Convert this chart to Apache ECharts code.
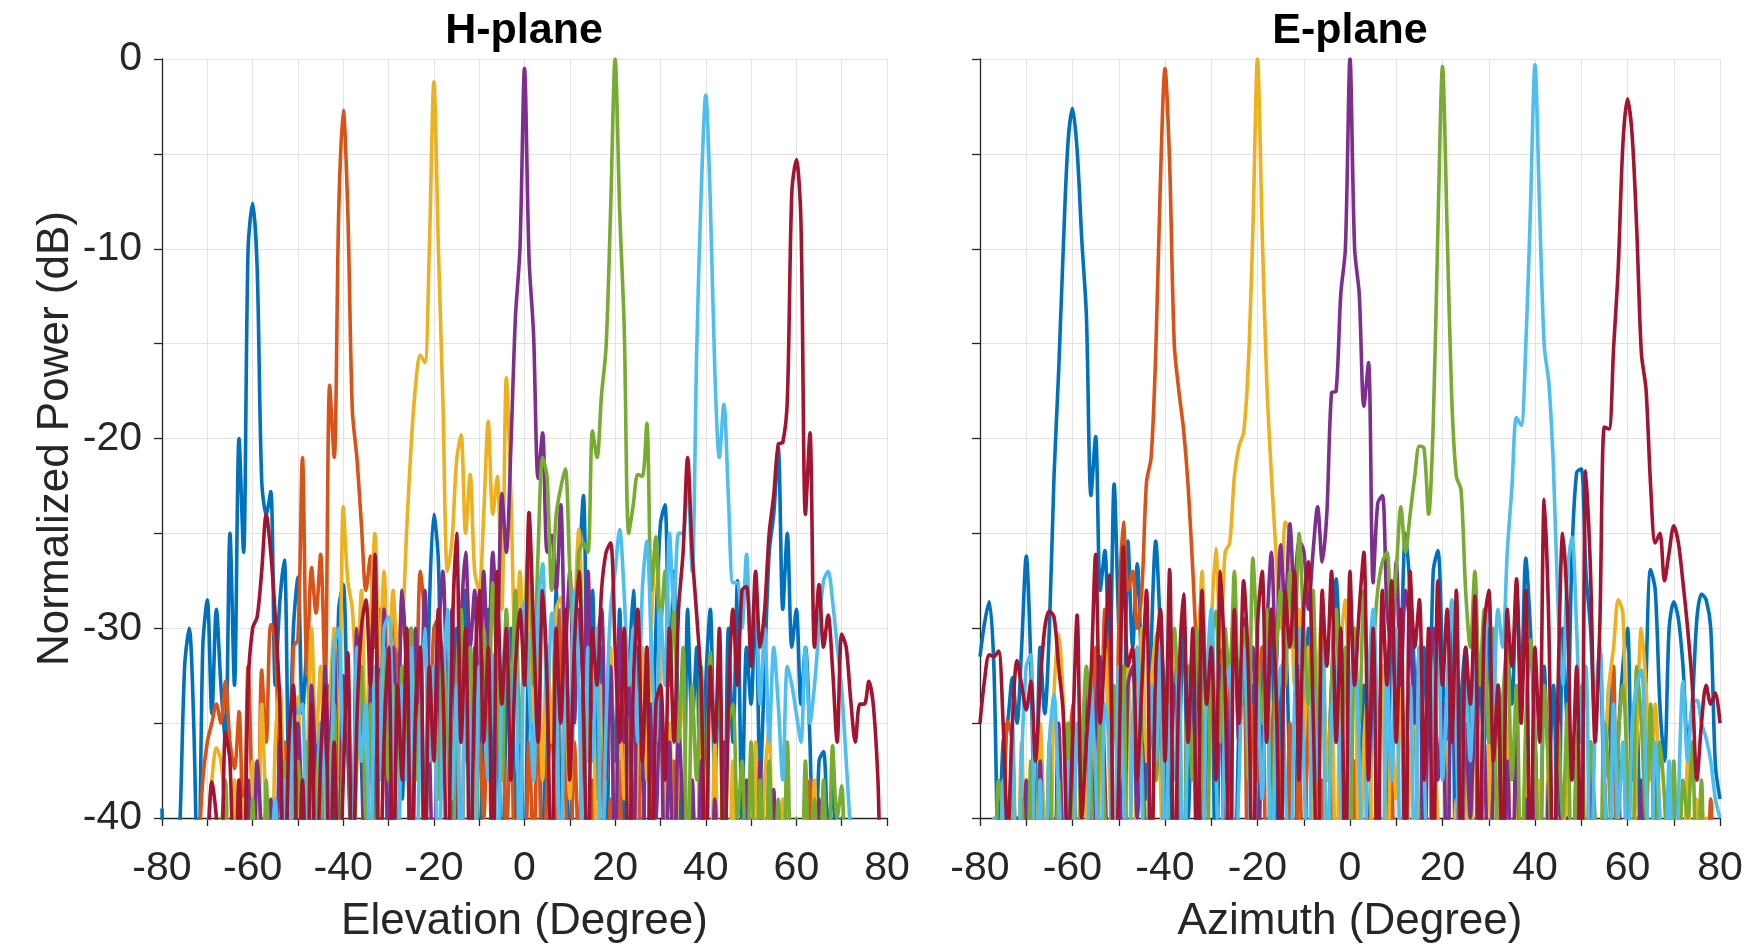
<!DOCTYPE html>
<html><head><meta charset="utf-8">
<script src="https://cdn.jsdelivr.net/npm/echarts@6/dist/echarts.min.js"></script>
<style>html,body{margin:0;padding:0;background:#fff}#c{width:1749px;height:946px}</style>
</head><body><div id="c"></div>
<script>
const angles = [-80,-79,-78,-77,-76,-75,-74,-73,-72,-71,-70,-69,-68,-67,-66,-65,-64,-63,-62,-61,
-60,-59,-58,-57,-56,-55,-54,-53,-52,-51,-50,-49,-48,-47,-46,-45,-44,-43,-42,-41,
-40,-39,-38,-37,-36,-35,-34,-33,-32,-31,-30,-29,-28,-27,-26,-25,-24,-23,-22,-21,
-20,-19,-18,-17,-16,-15,-14,-13,-12,-11,-10,-9,-8,-7,-6,-5,-4,-3,-2,-1,
0,1,2,3,4,5,6,7,8,9,10,11,12,13,14,15,16,17,18,19,20,21,22,23,24,25,26,27,28,29,
30,31,32,33,34,35,36,37,38,39,40,41,42,43,44,45,46,47,48,49,50,51,52,53,54,55,56,57,58,59,
60,61,62,63,64,65,66,67,68,69,70,71,72,73,74,75,76,77,78,79,80];

const xTickLabels = ['-80','-60','-40','-20','0','20','40','60','80'];
const yTickLabels = ['-40','-30','-20','-10','0'];
const seriesNames = ['Beam -60','Beam -40','Beam -20','Beam 0','Beam 20','Beam 40','Beam 60'];
const colors = ['#0072BD','#D95319','#EDB120','#7E2F8E','#77AC30','#4DBEEE','#A2142F'];

// ---------- H-plane (Elevation) ----------
const hBlue = [
-39.5,-45,-45,-45,-40,-32,-30,-35,-45,-31,
-28.5,-34.5,-29,-33,-36,-25,-33,-20,-26,-10,
-7.6,-11,-22.2,-24,-22.8,-33,-28.6,-26.4,-37.7,-30,
-27.3,-34.5,-31,-41,-36,-45,-38,-33,-41,-29,
-27.7,-36,-42,-31,-37,-45,-33,-40,-29,-36,
-32,-45,-34,-39,-30,-45,-35,-31,-42,-29,
-24,-26.5,-38,-33,-45,-30,-36,-28,-40,-31,
-45,-33,-29,-38,-32,-45,-34,-30,-40,-35,
-45,-30,-38,-33,-45,-31,-36,-28,-40,-33,
-45,-30,-27,-23,-34,-28,-39,-31,-45,-32,
-37,-29,-42,-33,-28,-36,-45,-31,-38,-30,
-24.5,-23.5,-33,-27,-36,-45,-29,-35,-31,-45,
-33,-29,-38,-32,-45,-30,-36,-27.5,-40,-31,
-34,-28,-38,-32,-26,-24,-20.5,-29,-25,-31,
-29,-34,-31,-36,-45,-37,-36.5,-41,-38,-45,
-40,-45,-45,-45,-45,-45,-45,-45,-45,-45,
-45];
const hOrange = [
-45,-45,-45,-45,-45,-45,-45,-45,-42,-38,
-36,-35,-34,-35,-32.8,-36,-37.4,-34.4,-42,-32,
-40,-45,-32.2,-36,-29.8,-30.5,-38,-36,-45,-31,
-30.6,-21,-32.5,-26.8,-29.2,-26.1,-33,-17.2,-21,-8,
-2.7,-8,-18.5,-21,-24.5,-28,-26.2,-31,-29,-33,
-32.5,-29,-33,-28.3,-31,-30,-34,-27,-29.5,-36,
-30,-29.5,-36,-33,-38,-32,-45,-33,-38,-45,
-35,-40,-33,-45,-36,-34,-41,-35,-45,-37,
-45,-36,-42,-34,-45,-38,-35,-45,-29,-38,
-45,-36,-42,-33,-45,-38,-45,-35,-45,-39,
-45,-37,-45,-45,-40,-36,-45,-45,-38,-45,
-45,-41,-45,-37,-45,-45,-45,-45,-45,-45,
-45,-45,-45,-45,-39,-45,-45,-45,-45,-45,
-45,-45,-38,-45,-45,-45,-45,-45,-45,-45,
-45,-45,-45,-38,-45,-45,-45,-45,-45,-45,
-45,-45,-45,-45,-45,-45,-45,-45,-45,-45,
-45];
const hYellow = [
-45,-45,-45,-45,-45,-45,-45,-45,-45,-45,
-41,-38,-36.3,-37,-40,-45,-38,-45,-39,-45,
-37,-45,-34,-40,-45,-36,-33,-40,-45,-35,
-33.6,-45,-38,-30,-36,-32,-40,-34,-30,-38,
-23.6,-27.5,-29,-33,-28,-36,-30,-25,-32,-27,
-33,-28,-31,-30,-24.8,-20.3,-17.1,-15.6,-16,-10,
-1.2,-10,-18.1,-27,-25.4,-21.2,-19.8,-25,-21.9,-27,
-28,-24,-19.1,-24,-22,-29,-16.8,-23,-31,-27,
-33,-28,-35,-30,-38,-31,-36,-29,-28.4,-33,
-39,-30,-24.8,-32,-37,-31,-45,-33,-38,-31,
-45,-34,-39,-32,-45,-36,-31,-38,-30,-25.2,
-33,-40,-35,-45,-37,-33,-45,-38,-45,-35,
-40,-45,-36,-45,-38,-45,-37,-45,-45,-39,
-45,-36,-45,-38,-35.3,-45,-45,-39,-45,-45,
-45,-45,-45,-45,-38,-45,-45,-45,-45,-45,
-45,-45,-45,-45,-45,-45,-45,-45,-45,-45,
-45];
const hPurple = [
-45,-45,-45,-45,-45,-45,-45,-45,-45,-45,
-45,-45,-45,-45,-45,-42,-45,-40,-45,-38,
-45,-37,-41,-45,-39,-45,-36,-45,-38,-45,
-35,-40,-45,-33,-38,-45,-32,-37,-31,-45,
-32.5,-36,-45,-30,-35,-45,-33,-28,-38,-29,
-45,-31,-36,-28,-33,-45,-30,-35,-28,-36,
-45,-31,-27,-33,-29,-40,-30,-26,-31,-28,
-36,-27,-32,-26,-30,-22.9,-26,-20.4,-13.6,-10,
-0.5,-10.5,-14.5,-22.1,-19.7,-26,-25.1,-28,-23.5,-31,
-27,-35,-29,-33,-27,-36,-31.3,-29,-38,-32,
-45,-30,-36,-33,-45,-31,-37,-45,-34,-40,
-33,-45,-36,-45,-35,-40,-45,-38,-45,-37,
-45,-45,-39,-45,-36,-45,-45,-40,-45,-38,
-45,-45,-37,-45,-45,-38.5,-45,-45,-45,-45,
-45,-45,-45,-45,-45,-39,-45,-45,-45,-45,
-45,-45,-45,-45,-45,-45,-45,-45,-45,-45,
-45];
const hGreen = [
-45,-45,-45,-45,-45,-45,-45,-45,-45,-45,
-45,-45,-45,-41,-38,-45,-45,-40,-45,-45,
-39,-45,-45,-38,-45,-40,-45,-37,-45,-38,
-37,-45,-36,-45,-39,-35,-45,-38,-34,-45,
-36,-33,-45,-37,-32,-40,-34,-45,-35,-31,
-38,-33,-45,-32,-36,-30,-38,-34,-45,-32,
-32.5,-39,-31,-35,-45,-33,-29,-37,-31,-45,
-34,-30,-36,-27.6,-33,-38,-29,-34,-28,-36,
-30,-25,-33,-26,-21,-22.1,-28,-24,-22.6,-21.6,
-27,-31,-26,-25.5,-26,-19.6,-21,-17.7,-15.2,-8,
0,-8,-14.1,-25,-23.5,-21.9,-22,-19.2,-28,-25.2,
-30,-27,-33,-29,-36,-31,-45,-33,-38,-32,
-45,-31.3,-36,-33,-45,-35,-34,-40,-37,-45,
-36,-45,-38,-45,-37,-45,-39,-45,-36,-45,
-40,-45,-37,-45,-39,-45,-38,-45,-36.2,-40,
-38.3,-45,-40,-45,-45,-45,-45,-45,-45,-45,
-45];
const hLight = [
-45,-45,-45,-45,-45,-45,-45,-45,-45,-45,
-45,-45,-45,-45,-45,-45,-45,-45,-45,-45,
-45,-45,-45,-45,-42,-39,-45,-38,-45,-33.6,
-34.5,-34,-45,-37,-45,-35,-39,-45,-31,-30,
-36,-33,-45,-31,-37,-34,-45,-32,-38,-30,
-29.4,-36,-45,-33,-38,-31,-45,-35,-30,-37,
-32,-45,-34,-29,-39,-33,-45,-31,-36,-45,
-32,-34,-38,-31.4,-45,-33,-30,-37,-31,-45,
-28.6,-33,-38,-29,-26.6,-35,-29.2,-33,-45,-30,
-36,-28,-33,-45,-31,-37,-30,-45,-35,-29,
-27,-24.8,-28.2,-33,-30,-36,-28,-25.4,-31,-36,
-29,-33,-25,-29,-25,-25,-22,-27,-15.4,-7,
-1.9,-7.5,-16.4,-21,-18.2,-23.1,-27.6,-27.6,-30,-26.1,
-31,-28,-34,-30,-36,-31,-34,-38,-32,-33,
-34.5,-36,-31,-35,-33,-30,-27.5,-27,-28.6,-30.9,
-33.2,-37,-41,-45,-45,-45,-45,-45,-45,-45,
-45];
const hRed = [
-45,-45,-45,-45,-45,-45,-45,-45,-45,-45,
-42,-38.1,-40,-45,-35.5,-37,-45,-38,-45,-33,
-30,-29.4,-27,-24,-26,-29.4,-34,-45,-36,-33,
-45,-38,-45,-34,-45,-37,-33,-45,-36,-45,
-38,-31.3,-45,-35,-30,-28.5,-33,-26.1,-45,-36,
-31,-45,-33,-38,-30,-45,-34,-31,-45,-32,
-37,-29,-33,-45,-31,-25,-36,-30,-45,-33,
-28,-36,-31,-45,-27,-34,-30,-38,-32,-29,
-33,-23.9,-30,-36,-28,-33,-45,-30,-35,-29,
-38,-31,-27,-34,-45,-30,-33,-28,-26,-25.5,
-31,-36,-30,-45,-33,-29,-37,-31,-45,-34,
-33,-38,-30,-36,-29,-26,-21,-26,-29.3,-33,
-45,-32,-36,-30,-45,-34,-29,-33,-28,-27.8,
-32,-27,-31,-29,-25,-23,-20.3,-20.2,-18,-7,
-5.3,-8.5,-24,-19.7,-31,-27.7,-31,-29.3,-32.2,-36,
-30.3,-31,-33.8,-36,-34,-34,-32.8,-34.1,-38,-45,
-45];

// ---------- E-plane (Azimuth) ----------
const eBlue = [
-31.5,-29.7,-28.6,-32,-42,-36,-34.9,-32.6,-35,-31,
-26.2,-32,-42,-31,-34.5,-30,-22,-16.5,-10,-4.5,
-2.6,-4.8,-9.5,-13.5,-23,-19.9,-28,-25.9,-33,-22.4,
-30,-36,-25.4,-31,-26.6,-33,-39,-31,-25.4,-30,
-34,-45,-32,-36,-29,-40,-33,-45,-31,-37,
-30,-45,-34,-38,-32,-45,-35,-30,-39,-33,
-45,-31,-36,-29,-42,-34,-31,-38,-45,-32,
-36,-30,-45,-35,-31,-38,-33,-27.4,-34,-45,
-36,-31,-40,-33,-45,-30,-36,-32,-45,-29,
-34,-31,-25,-28,-33,-45,-31,-36,-27,-25.9,
-32,-38,-30,-45,-34,-31,-37,-45,-32,-36,
-30,-39,-33,-45,-31,-34,-28,-33,-26.3,-30,
-36,-45,-32,-37,-33,-45,-30,-35,-26,-21.8,
-21.6,-27,-30,-35,-31,-38,-33,-45,-36,-32,
-30,-38,-35,-45,-33,-26.9,-28,-34,-37,-30,
-28.6,-29.5,-32,-36,-34,-29.5,-28.2,-28.5,-30,-37.2,
-39];
const eOrange = [
-45,-45,-45,-45,-45,-42,-34.9,-36,-45,-38,
-45,-40,-45,-37,-45,-39,-45,-36,-45,-38,
-34,-45,-36,-33,-40,-31,-37,-29,-34,-45,
-30,-24.4,-28,-27,-30,-28,-22.3,-21,-15.5,-6.5,
-0.5,-5.5,-15,-17.5,-19.5,-22.5,-26.9,-31,-28,-34,
-30,-37,-31,-45,-33,-29,-36,-32,-45,-34,
-38,-31,-45,-36,-33,-40,-45,-35,-45,-37,
-45,-34,-42,-45,-38,-45,-36,-45,-45,-39,
-45,-37,-45,-45,-40,-45,-36,-45,-45,-38,
-45,-45,-39,-45,-45,-45,-45,-45,-45,-45,
-45,-45,-45,-45,-45,-45,-45,-45,-45,-45,
-45,-45,-45,-45,-45,-45,-45,-45,-45,-45,
-45,-45,-45,-45,-45,-45,-45,-45,-45,-45,
-45,-45,-45,-45,-45,-38,-45,-32,-45,-45,
-45,-45,-40,-45,-45,-45,-37,-45,-45,-45,
-45,-45,-45,-45,-45,-45,-45,-45,-39,-45,
-45];
const eYellow = [
-45,-45,-45,-45,-45,-45,-40,-37,-45,-36,
-45,-39,-45,-35,-41,-45,-33.5,-30.3,-34,-45,
-37,-45,-35,-40,-33,-45,-36,-31,-38,-45,
-34,-39,-32,-45,-36,-30,-37,-33,-30.3,-38,
-45,-35,-31,-36,-45,-32,-38,-33.8,-27,-38,
-30,-25.8,-31,-26,-25.5,-22,-20.4,-19.7,-16.2,-9,
0,-9,-17,-21.9,-26,-30,-24.4,-25,-33,-29,
-36,-31,-45,-33,-29,-38,-34,-45,-31,-28.5,
-35,-30,-45,-36,-33,-45,-38,-32,-45,-35,
-39,-33,-45,-37,-34,-45,-38,-45,-35,-40,
-45,-36,-45,-39,-45,-37,-45,-34,-40,-45,
-36,-45,-38,-45,-35,-45,-39,-45,-37,-45,
-45,-38,-45,-36,-45,-40,-45,-37,-45,-45,
-39,-45,-36,-45,-45,-38,-33,-31,-28.5,-29.2,
-38,-45,-36,-30,-33,-38,-34,-40,-45,-38,
-45,-40,-45,-37,-45,-39,-45,-40,-45,-45,
-45];
const ePurple = [
-45,-45,-45,-45,-45,-45,-45,-45,-40,-45,
-38,-45,-45,-37,-45,-39,-45,-35,-42,-45,
-36,-45,-38,-33,-45,-35,-31.5,-38,-45,-34,
-36,-45,-33,-32,-40,-36,-45,-34,-38,-31,
-45,-35,-33,-40,-45,-34,-37,-31,-45,-36,
-33,-38,-32,-45,-35,-30,-36,-29.5,-33,-31,
-45,-34,-30,-26,-32,-25.6,-29,-24.5,-28,-25.4,
-25.9,-29,-26,-23.6,-26.5,-23.9,-17.6,-17.5,-12.4,-10,
0,-10,-12.4,-18.3,-16,-27.6,-23.4,-23,-29,-31,
-26.5,-33,-28,-30,-35,-31,-45,-33,-30,-38,
-34,-45,-32,-37,-45,-35,-40,-34,-45,-36,
-45,-38,-33,-45,-37,-45,-35,-45,-39,-45,
-36,-45,-45,-38,-45,-34,-45,-40,-45,-37,
-45,-45,-36,-45,-45,-39,-45,-45,-37,-45,
-45,-45,-45,-38,-45,-45,-45,-45,-45,-39,
-45,-45,-45,-45,-45,-45,-45,-45,-45,-45,
-45];
const eGreen = [
-45,-45,-45,-45,-38,-40,-45,-36,-45,-39,
-45,-37,-45,-40,-45,-36,-45,-38,-45,-35,
-40,-45,-37,-32,-38,-45,-34,-40,-45,-33,
-38,-32,-45,-36,-31,-37,-45,-33,-38,-31,
-45,-34,-30,-36,-45,-32,-38,-30,-35,-45,
-31,-29.1,-36,-30,-33,-27,-34,-30,-38,-26.3,
-31,-35,-29,-45,-32,-28,-33,-27,-31,-25,
-30,-34,-28,-36,-31,-45,-33,-29,-37,-31,
-45,-30,-35,-28,-33,-31,-28,-26.5,-26,-30,
-27,-23.6,-26,-24,-22,-20.4,-20.5,-24,-19.2,-9,
-0.4,-9,-17.9,-22,-22.7,-28,-31,-27,-33,-29,
-36,-30,-45,-34,-31,-38,-33,-45,-35,-30.6,
-36,-45,-33,-38,-45,-35,-40,-34,-45,-37,
-33,-45,-36,-40,-45,-35,-38,-45,-36,-33,
-38,-45,-32,-35,-40,-34,-45,-36,-39,-45,
-37,-45,-38,-40,-36,-45,-38,-45,-45,-45,
-45];
const eLight = [
-45,-45,-45,-40,-45,-38,-45,-35,-45,-37,
-32,-31.4,-45,-38,-45,-36,-33.5,-39,-45,-37,
-45,-35,-40,-45,-33,-38,-45,-34,-36,-45,
-32,-38,-45,-35,-31,-39,-45,-33,-37,-31,
-45,-34,-38,-32,-45,-35,-31,-40,-45,-33,
-29,-37,-45,-34,-32,-45,-38,-31,-36,-45,
-33,-39,-31,-45,-35,-32,-38,-45,-34,-30,
-37,-45,-33,-38,-31,-45,-35,-32,-39,-45,
-34,-31,-37,-45,-33,-29,-36,-45,-32,-38,
-30,-45,-35,-33,-45,-31,-37,-45,-34,-30,
-38,-33,-28.5,-36,-45,-32,-37,-31,-45,-33,
-28.1,-34,-29,-31,-26,-22.6,-18.9,-19.3,-15.2,-8,
-0.3,-8,-15.1,-17.1,-21.6,-29,-33,-27,-25.2,-30,
-36,-32,-45,-35,-31,-38,-45,-34,-40,-36,
-45,-35,-33,-32.2,-38,-45,-36,-40,-45,-37,
-45,-39,-32.8,-37,-34,-33.8,-35,-35.8,-37,-39,
-40];
const eRed = [
-35,-32.7,-31.4,-31.5,-31.2,-35,-41,-35,-31.7,-33,
-34.3,-32.8,-37,-33,-30,-29.1,-29.4,-32,-34.5,-42,
-36,-29.3,-40,-36,-32.5,-26.1,-35,-31,-27.2,-45,
-38,-25.7,-32,-31,-38,-33,-28,-45,-32,-29,
-37,-26.9,-45,-33,-28.2,-36,-30,-45,-28,-34,
-31,-38,-27,-33,-45,-29,-35,-27.5,-32,-45,
-30,-27,-36,-29,-33,-45,-28,-31,-27,-38,
-29,-26.5,-34,-45,-28,-32,-27,-36,-30,-45,
-27,-33,-29,-26,-38,-30,-45,-28,-33,-27.5,
-36,-29,-45,-27,-31,-28.5,-38,-30,-45,-27.5,
-33,-29,-36,-28,-45,-31,-34,-28.3,-45,-30,
-28,-37,-33,-45,-29,-32,-27.4,-35,-28,-45,
-31,-36,-23.2,-30,-45,-33,-25,-29,-38,-32,
-45,-21.7,-27,-36,-30,-19.4,-19.5,-15.2,-11,-4.5,
-2.1,-4,-9,-15.5,-17.4,-22.5,-25.5,-25,-27.5,-26,
-24.6,-25.5,-27.6,-30,-33,-38,-35,-33,-34,-33.4,
-35];

const hSets = [hBlue,hOrange,hYellow,hPurple,hGreen,hLight,hRed];
const eSets = [eBlue,eOrange,eYellow,ePurple,eGreen,eLight,eRed];
[...hSets, ...eSets].forEach((a, k) => {
  if (a.length !== angles.length) throw new Error('series ' + k + ' has ' + a.length + ' values');
});

const FONT = '"Liberation Sans", Arial, Helvetica, sans-serif';
const TXT = '#262626';

function xAxisCfg(idx, name) {
  return {
    type: 'value', gridIndex: idx, min: -80, max: 80, interval: 10,
    name: name, nameLocation: 'middle', nameGap: 82,
    nameTextStyle: {fontSize: 44, color: TXT, fontFamily: FONT},
    axisLine: {show: true, onZero: false, lineStyle: {color: TXT, width: 1.3}},
    axisTick: {show: true, length: 8, lineStyle: {color: TXT, width: 1.3}},
    axisLabel: {margin: 30, fontSize: 41, color: TXT, fontFamily: FONT,
      formatter: v => xTickLabels.includes(String(v)) ? String(v) : ''},
    splitLine: {show: true, lineStyle: {color: '#e2e2e2', width: 1}}
  };
}
function yAxisCfg(idx, showLabels, name) {
  return {
    type: 'value', gridIndex: idx, min: -40, max: 0, interval: 5,
    name: name || '', nameLocation: 'middle', nameGap: 84, nameRotate: 90,
    nameTextStyle: {fontSize: 44, color: TXT, fontFamily: FONT},
    axisLine: {show: true, onZero: false, lineStyle: {color: TXT, width: 1.3}},
    axisTick: {show: true, length: 8, lineStyle: {color: TXT, width: 1.3}},
    axisLabel: {show: showLabels, margin: 20, fontSize: 41, color: TXT, fontFamily: FONT,
      formatter: v => yTickLabels.includes(String(v)) ? String(v) : ''},
    splitLine: {show: true, lineStyle: {color: '#e2e2e2', width: 1}}
  };
}

const series = [];
[hSets, eSets].forEach((sets, gi) => {
  sets.forEach((vals, k) => {
    series.push({
      type: 'line', name: seriesNames[k], xAxisIndex: gi, yAxisIndex: gi,
      data: angles.map((a, i) => [a, vals[i]]),
      showSymbol: false, smooth: 0.3, clip: true, silent: true,
      lineStyle: {width: 3.6, color: colors[k]}, itemStyle: {color: colors[k]},
      z: 2 + k
    });
  });
});

const chart = echarts.init(document.getElementById('c'), null, {renderer: 'canvas'});
chart.setOption({
  animation: false,
  backgroundColor: '#ffffff',
  grid: [
    {left: 162, top: 59, width: 725, height: 759, containLabel: false, outerBoundsMode: 'none'},
    {left: 980, top: 59, width: 740, height: 759, containLabel: false, outerBoundsMode: 'none'}
  ],
  xAxis: [xAxisCfg(0, 'Elevation (Degree)'), xAxisCfg(1, 'Azimuth (Degree)')],
  yAxis: [yAxisCfg(0, true, 'Normalized Power (dB)'), yAxisCfg(1, false, '')],
  graphic: [
    {type: 'text', x: 524, y: 31, style: {text: 'H-plane', fontSize: 43, fontWeight: 'bold', fontFamily: FONT, fill: '#000', align: 'center', verticalAlign: 'middle'}},
    {type: 'text', x: 1350, y: 31, style: {text: 'E-plane', fontSize: 43, fontWeight: 'bold', fontFamily: FONT, fill: '#000', align: 'center', verticalAlign: 'middle'}}
  ],
  series: series
});
</script></body></html>
